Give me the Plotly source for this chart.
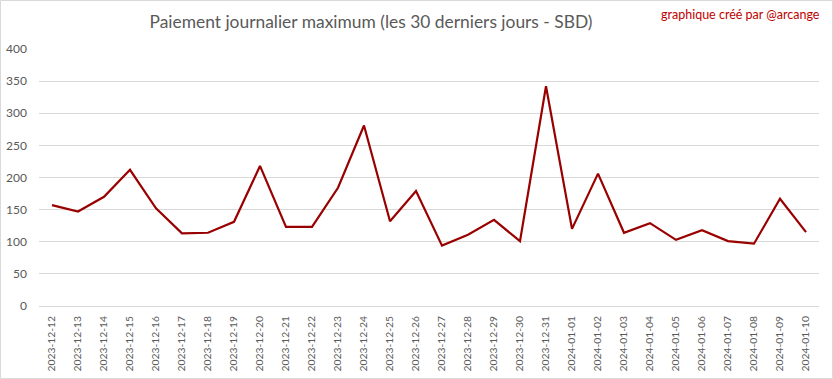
import plotly.graph_objects as go

dates = ["2023-12-12", "2023-12-13", "2023-12-14", "2023-12-15", "2023-12-16",
         "2023-12-17", "2023-12-18", "2023-12-19", "2023-12-20", "2023-12-21",
         "2023-12-22", "2023-12-23", "2023-12-24", "2023-12-25", "2023-12-26",
         "2023-12-27", "2023-12-28", "2023-12-29", "2023-12-30", "2023-12-31",
         "2024-01-01", "2024-01-02", "2024-01-03", "2024-01-04", "2024-01-05",
         "2024-01-06", "2024-01-07", "2024-01-08", "2024-01-09", "2024-01-10"]
max_payout = [157, 147, 170, 212, 152, 113, 114, 131, 218, 123,
              123, 184, 281, 132, 179, 94, 111, 134, 101, 342,
              120, 206, 114, 129, 103, 118, 101, 97, 167, 115]
y_ticks = [0, 50, 100, 150, 200, 250, 300, 350, 400]

title_text = "Paiement journalier maximum (les 30 derniers jours - SBD)"
credit_text = "graphique créé par @arcange"

W, H = 833, 379
L, R, T, B = 39, 14, 49, 73
pw, ph = W - L - R, H - T - B

fig = go.Figure()
fig.add_trace(go.Scatter(
    x=dates, y=max_payout, mode="lines",
    line=dict(color="#990000", width=2.2),
    hoverinfo="x+y", showlegend=False,
))

fig.update_layout(
    width=W, height=H,
    margin=dict(l=L, r=R, t=T, b=B, autoexpand=False),
    paper_bgcolor="white", plot_bgcolor="white",
    font=dict(family="Lato, 'Open Sans', sans-serif", color="#595959"),
    title=dict(text=title_text, x=371 / W, xanchor="center", y=1 - 22 / H, yanchor="middle",
               font=dict(size=17.4, color="#595959")),
    xaxis=dict(type="category", range=[-0.5, len(dates) - 0.5], automargin=False,
               tickangle=-90, tickfont=dict(size=10.3, color="#595959"),
               showgrid=False, showline=False, zeroline=False, ticks="", ticklabelstandoff=7),
    yaxis=dict(range=[0, 400], tickvals=y_ticks, tickfont=dict(size=12, color="#595959"),
               automargin=False,
               showgrid=True, gridcolor="#d9d9d9", gridwidth=1, zeroline=True,
               zerolinecolor="#d9d9d9", zerolinewidth=1, showline=False, ticks="",
               ticklabelstandoff=11),
    annotations=[dict(text=credit_text, xref="paper", yref="paper",
                      x=(822 - L) / pw, y=1 + (T - 14) / ph, xanchor="right", yanchor="middle",
                      showarrow=False, font=dict(size=12.5, color="#C00000"))],
    shapes=[dict(type="rect", xref="paper", yref="paper",
                 x0=(0.5 - L) / pw, x1=(W - 0.5 - L) / pw,
                 y0=-(B - 0.5) / ph, y1=1 + (T - 0.5) / ph,
                 line=dict(color="#d9d9d9", width=1), layer="below")],
)

fig.write_html("out.html", config={"displayModeBar": False},
               post_script="document.body.style.margin='0';document.body.style.overflow='hidden';")
